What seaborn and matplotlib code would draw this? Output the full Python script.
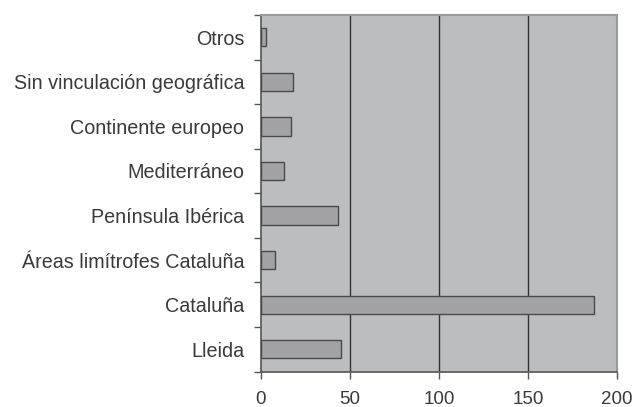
import matplotlib
matplotlib.use("Agg")
import matplotlib.pyplot as plt
import seaborn as sns
import pandas as pd
import numpy as np

categories = ["Otros", "Sin vinculación geográfica", "Continente europeo", "Mediterráneo",
              "Península Ibérica", "Áreas limítrofes Cataluña", "Cataluña", "Lleida"]
values = [3, 18, 17, 13, 43.5, 8, 187, 45]
x_ticks = [0, 50, 100, 150, 200]

sns.set_theme(style="white")
plt.rcParams['font.family'] = ['Liberation Sans', 'DejaVu Sans']

df = pd.DataFrame({"cat": categories, "val": values})

fig = plt.figure(figsize=(6.35, 4.07), dpi=100)
ax = fig.add_axes([261/635, 1 - 371.5/407, (617 - 261)/635, (371.5 - 15)/407])
ax.set_facecolor("#bcbdc1")

sns.barplot(data=df, x="val", y="cat", orient="h", ax=ax, color="#a3a3a7",
            edgecolor="#4a4a4a", linewidth=1.0, width=0.41, saturation=1, zorder=3)

ax.set_xlim(0, 200)
ax.set_ylim(len(categories) - 0.5, -0.5)
ax.set_xticks(x_ticks)
ax.set_xticklabels([str(t) for t in x_ticks])
for t in x_ticks[1:-1]:
    ax.axvline(t, color="#333333", linewidth=1.0, zorder=1)

ax.set_xlabel("")
ax.set_ylabel("")

ax.set_yticks(np.arange(len(categories)))
ax.set_yticklabels(categories)
ax.set_yticks(np.arange(len(categories) + 1) - 0.5, minor=True)
ax.tick_params(axis="y", which="major", length=0, pad=12, labelsize=14.2, labelcolor="#3a3a3a")
ax.tick_params(axis="y", which="minor", length=5, width=1, color="#555555", left=True)
ax.tick_params(axis="x", which="major", length=5, width=1, color="#555555", pad=9,
               labelsize=13.5, labelcolor="#3a3a3a", bottom=True)

for side in ["left", "bottom"]:
    ax.spines[side].set_color("#555555")
    ax.spines[side].set_linewidth(1.2)
for side in ["top", "right"]:
    ax.spines[side].set_visible(True)
    ax.spines[side].set_color("#9a9a9c")
    ax.spines[side].set_linewidth(1.5)

fig.savefig("out.png", dpi=100, facecolor="white")
